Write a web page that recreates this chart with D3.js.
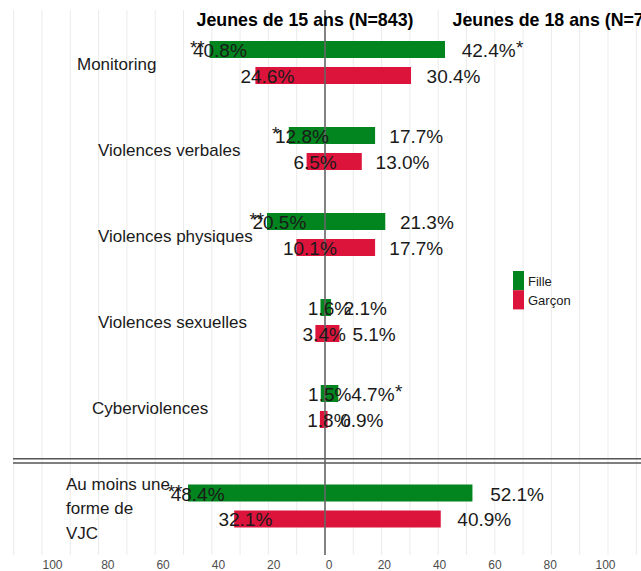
<!DOCTYPE html>
<html>
<head>
<meta charset="utf-8">
<script src="https://cdn.jsdelivr.net/npm/d3@7"></script>
<style>
  body { margin: 0; background: #fff; }
  svg { font-family: "Liberation Sans", Arial, Helvetica, sans-serif; display: block; }
</style>
</head>
<body>
<svg id="chart" width="641" height="571"></svg>
<script>
// categories (top panel + bottom panel)
const categoriesTop = ['Monitoring', 'Violences verbales', 'Violences physiques', 'Violences sexuelles', 'Cyberviolences'];
const categoriesBottom = ['Au moins une forme de VJC'];
const categories = categoriesTop.concat(categoriesBottom);
const genders = ['Fille', 'Garçon'];

// values in %, 15 years (left side) and 18 years (right side)
const fille15  = [40.8, 12.8, 20.5, 1.6, 1.5, 48.4];
const garcon15 = [24.6, 6.5, 10.1, 3.4, 1.8, 32.1];
const fille18  = [42.4, 17.7, 21.3, 2.1, 4.7, 52.1];
const garcon18 = [30.4, 13.0, 17.7, 5.1, 0.9, 40.9];

// significance marks (girls only)
const sigFille15 = ['**', '*', '**', '', '', '**'];
const sigFille18 = ['*', '', '', '', '*', ''];

// axis ticks
const tickValues = [-100, -80, -60, -40, -20, 0, 20, 40, 60, 80, 100];

const titles = ['Jeunes de 15 ans (N=843)', 'Jeunes de 18 ans (N=744)'];

const colors = { 'Fille': '#02841e', 'Garçon': '#dc143c' };

// flatten into rows
let rows = [];
categories.forEach((cat, i) => {
    rows.push({ cat: cat, g: 'Fille', left: fille15[i], right: fille18[i], sigL: sigFille15[i], sigR: sigFille18[i] });
    rows.push({ cat: cat, g: 'Garçon', left: garcon15[i], right: garcon18[i], sigL: '', sigR: '' });
});

const svg = d3.select('#chart');

// X scale (symmetric, left = 15 ans, right = 18 ans)
const x = d3.scaleLinear().domain([-100, 100]).range([42, 608]);
// tick labels sit slightly inside the grid positions
const xLab = d3.scaleLinear().domain([-100, 100]).range([52, 605]);

// Y scales: two panels
const yTop = d3.scaleBand().domain(categoriesTop).range([19.5, 449.5]);
const yBottom = d3.scaleBand().domain(categoriesBottom).range([463, 549]);
const yCenter = (cat) => {
    if (categoriesTop.includes(cat)) return yTop(cat) + yTop.bandwidth() / 2;
    return yBottom(cat) + yBottom.bandwidth() / 2;
};
const ySub = d3.scaleBand().domain(genders).range([-21.5, 21.5]).paddingInner(0.346);

const gridTop = 10, gridBottom = 555;

// grid
svg.append('g')
    .selectAll('line')
    .data(d3.range(-110, 111, 10))
    .enter()
    .append('line')
    .attr('x1', d => x(d)).attr('x2', d => x(d))
    .attr('y1', gridTop).attr('y2', gridBottom)
    .style('stroke', '#ebebeb')
    .style('stroke-width', 1);

// bars
const barG = svg.append('g');
barG.selectAll('.bar-left')
    .data(rows)
    .enter()
    .append('rect')
    .attr('x', d => x(-d.left))
    .attr('width', d => x(0) - x(-d.left))
    .attr('y', d => yCenter(d.cat) + ySub(d.g))
    .attr('height', ySub.bandwidth())
    .style('fill', d => colors[d.g]);

barG.selectAll('.bar-right')
    .data(rows)
    .enter()
    .append('rect')
    .attr('x', x(0))
    .attr('width', d => x(d.right) - x(0))
    .attr('y', d => yCenter(d.cat) + ySub(d.g))
    .attr('height', ySub.bandwidth())
    .style('fill', d => colors[d.g]);

// separator between panels
[458.7, 463].forEach(yy => {
    svg.append('line')
        .attr('x1', 13).attr('x2', 641)
        .attr('y1', yy).attr('y2', yy)
        .style('stroke', '#555')
        .style('stroke-width', 1.6);
});

// zero line
svg.append('line')
    .attr('x1', x(0)).attr('x2', x(0))
    .attr('y1', gridTop).attr('y2', gridBottom)
    .style('stroke', '#666')
    .style('stroke-width', 1.6);

// value labels
const pad = v => 12.5 + 0.1 * v;
const baseY = d => yCenter(d.cat) + ySub(d.g) + ySub.bandwidth() / 2 + 7.5;
const fmt = v => v.toFixed(1) + '%';

const labG = svg.append('g').style('font-size', '19px').style('fill', '#1a1a1a');

labG.selectAll('.lab-left')
    .data(rows)
    .enter()
    .append('text')
    .attr('x', d => x(-d.left) - pad(d.left))
    .attr('y', baseY)
    .text(d => fmt(d.left));

labG.selectAll('.lab-left-sig')
    .data(rows.filter(d => d.sigL))
    .enter()
    .append('text')
    .attr('x', d => x(-d.left) - pad(d.left) - 3)
    .attr('y', d => baseY(d) - 3)
    .text(d => d.sigL);

const rightLabels = labG.selectAll('.lab-right')
    .data(rows)
    .enter()
    .append('text')
    .attr('x', d => x(d.right) + pad(d.right))
    .attr('y', baseY)
    .text(d => fmt(d.right));

rightLabels.each(function (d) {
    if (!d.sigR) return;
    const len = this.getComputedTextLength();
    labG.append('text')
        .attr('x', x(d.right) + pad(d.right) + len + 0.5)
        .attr('y', baseY(d) - 3)
        .text(d.sigR);
});

// category labels
const labelStart = {
    'Monitoring': 77,
    'Violences verbales': 98,
    'Violences physiques': 98,
    'Violences sexuelles': 98,
    'Cyberviolences': 92,
    'Au moins une forme de VJC': 66
};
const catG = svg.append('g').style('font-size', '17px').style('fill', '#1a1a1a');
categoriesTop.forEach(cat => {
    catG.append('text')
        .attr('x', labelStart[cat])
        .attr('y', yCenter(cat) + 7)
        .text(cat);
});
// wrapped label for bottom panel
const wrapped = ['Au moins une', 'forme de', 'VJC'];
wrapped.forEach((line, i) => {
    catG.append('text')
        .attr('x', labelStart[categoriesBottom[0]])
        .attr('y', yCenter(categoriesBottom[0]) - 16.5 + i * 24.5)
        .text(line);
});

// titles
svg.append('text')
    .attr('x', 305).attr('y', 26)
    .attr('text-anchor', 'middle')
    .style('font-size', '17.8px').style('font-weight', 'bold')
    .text(titles[0]);
svg.append('text')
    .attr('x', 452.5).attr('y', 26)
    .style('font-size', '17.8px').style('font-weight', 'bold')
    .text(titles[1]);

// x axis
svg.append('g')
    .attr('transform', `translate(0, ${gridBottom + 2})`)
    .call(d3.axisBottom(xLab).tickValues(tickValues).tickSize(0).tickFormat(d => Math.abs(d)))
    .call(g => g.select('.domain').remove())
    .selectAll('text')
    .style('font-family', '"Liberation Sans", Arial, sans-serif')
    .style('font-size', '12px')
    .style('fill', '#4d4d4d');

// legend
const legend = svg.append('g').attr('transform', 'translate(513, 271)');
genders.forEach((g, i) => {
    legend.append('rect')
        .attr('x', 0).attr('y', i * 19.2)
        .attr('width', 11).attr('height', 19.2)
        .style('fill', colors[g]);
    legend.append('text')
        .attr('x', 15).attr('y', i * 19.2 + 14.5)
        .style('font-size', '13px').style('fill', '#1a1a1a')
        .text(g);
});
</script>
</body>
</html>
